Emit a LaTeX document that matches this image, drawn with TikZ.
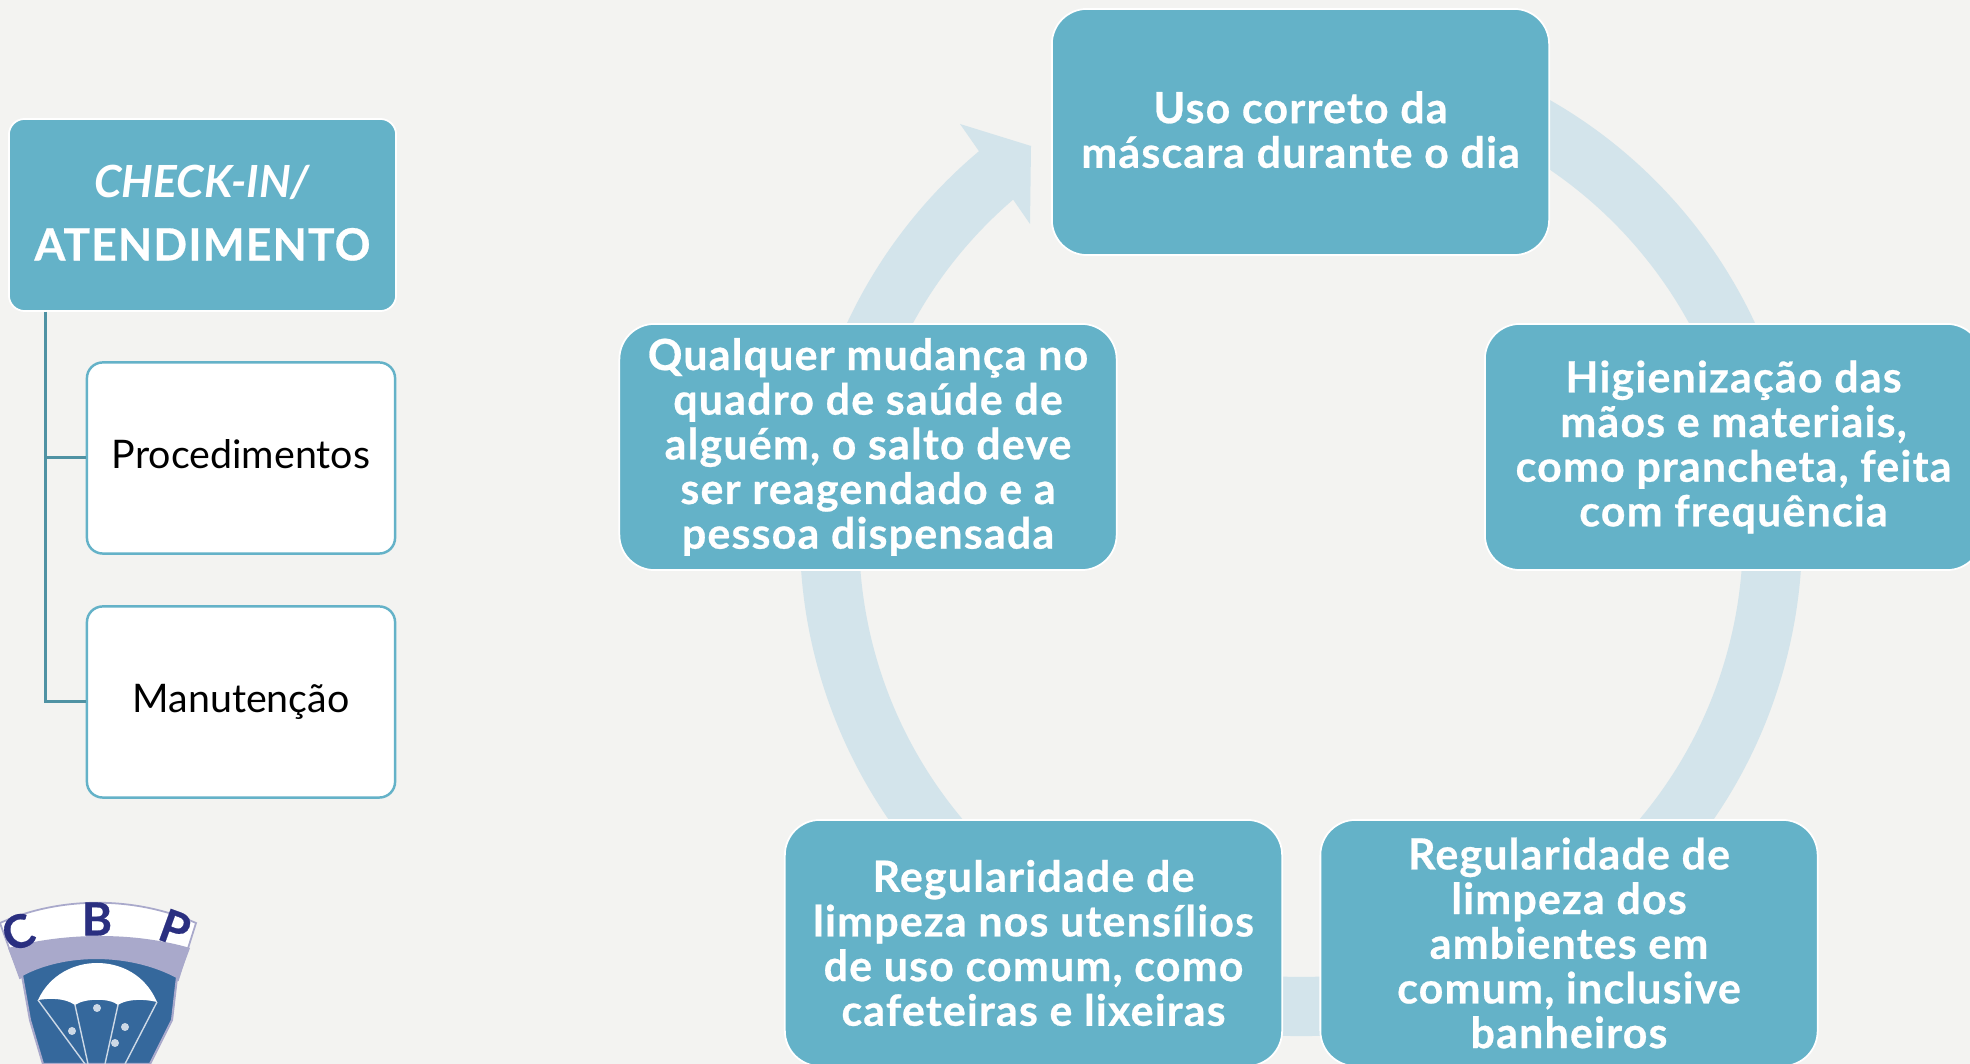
\documentclass[tikz,border=0pt]{standalone}
\usepackage{fontspec}
\setmainfont{Lato}[BoldFeatures={LetterSpace=2.8,FakeBold=0.6}]
\usetikzlibrary{calc}
\definecolor{boxteal}{HTML}{64B2C8}
\definecolor{ringblue}{HTML}{D3E4EB}
\definecolor{linkteal}{HTML}{4F92A3}
\definecolor{pagegrey}{HTML}{F3F3F1}
\definecolor{crestblue}{HTML}{35689C}
\definecolor{crestnavy}{HTML}{2A2F80}
\definecolor{crestlilac}{HTML}{A9A9CB}

\begin{document}
\begin{tikzpicture}[x=0.01cm,y=0.01cm,
    ringbox/.style={draw=white,line width=0.5pt,fill=boxteal,rounded corners=10pt,text=white,
        minimum width=4.97cm,minimum height=2.46cm,align=center,font=\fontsize{12.2}{12.7}\selectfont\bfseries},
    headbox/.style={draw=white,line width=0.5pt,fill=boxteal,rounded corners=4.5pt,text=white,
        minimum width=3.87cm,minimum height=1.92cm,align=center,font=\fontsize{12.6}{18}\selectfont\bfseries},
    subbox/.style={draw=boxteal,line width=0.7pt,fill=white,rounded corners=4.5pt,text=black,
        minimum width=3.08cm,minimum height=1.91cm,align=center,font=\fontsize{11.2}{13}\selectfont},
    crestletter/.style={text=crestnavy,font=\fontsize{13}{13}\selectfont\bfseries,inner sep=0pt}]
            \useasboundingbox (0,0) rectangle (1970,1064);
            \fill[pagegrey] (0,0) rectangle (1970,1064);
            \coordinate (ringc) at (1301,529);
            \fill[ringblue] ($(ringc)+(75:501)$) arc (75:-230:501)
                -- (960,940) -- (1031,918) -- (1030,840) -- (1012,866)
                -- ($(ringc)+(-229.4:442)$) arc (-229.4:75:442) -- cycle;
            \node[ringbox,text depth=1.4pt] (mask) at (1300.5,932) {Uso correto da\\máscara durante o dia};
            \node[ringbox] (hands) at (1733.5,617) {Higienização das\\mãos e materiais,\\como prancheta, feita\\com frequência};
            \node[ringbox] (rooms) at (1569,121) {Regularidade de\\limpeza dos\\ambientes em\\comum, inclusive\\banheiros};
            \node[ringbox] (tools) at (1033.5,121) {Regularidade de\\limpeza nos utensílios\\de uso comum, como\\cafeteiras e lixeiras};
            \node[ringbox] (health) at (868,617) {Qualquer mudança no\\quadro de saúde de\\alguém, o salto deve\\ser reagendado e a\\pessoa dispensada};
            \node[headbox,text depth=1.4pt] (checkin) at (202.5,849) {\textit{CHECK-IN/}\\ATENDIMENTO};
            \node[subbox,text depth=2pt] (proc) at (241,606) {Procedimentos};
            \node[subbox] (manut) at (241,362) {Manutenção};
            \coordinate (trunk) at ($(checkin.south west)+(37,0)$);
            \draw[linkteal,line width=0.85pt] (trunk) |- (proc.west);
            \draw[linkteal,line width=0.85pt] (trunk) |- (manut.west);
            \fill[white,draw=crestlilac,line width=0.5pt] (0,141) .. controls (60,168) and (135,168) .. (196,141)
                -- (178,84) .. controls (130,108) and (65,108) .. (20,86) -- cycle;
            \fill[crestlilac] (8,116) .. controls (65,132) and (135,132) .. (190,116)
                -- (178,84) .. controls (130,108) and (65,108) .. (20,86) -- cycle;
            \filldraw[fill=crestblue,draw=crestlilac,line width=0.6pt] (22,89) .. controls (65,112) and (130,112) .. (177,87)
                -- (172,44) -- (150,0) -- (43,0) -- (30,44) -- cycle;
            \fill[white] (38,64) .. controls (50,90) and (75,101) .. (97,101)
                .. controls (120,101) and (145,90) .. (157,62)
                .. controls (140,66) and (125,64) .. (118,59)
                .. controls (110,66) and (85,66) .. (75,59)
                .. controls (65,66) and (50,66) .. (38,64) -- cycle;
            \draw[white!75!crestblue,line width=0.4pt] (38,64) -- (85,0) (75,59) -- (88,0) (118,59) -- (105,0) (157,62) -- (125,0);
            \fill[white!75!crestblue] (97,56) circle (4) (72,33) circle (4) (125,37) circle (4) (115,21) circle (4);
            \node[crestletter,rotate=22] (crestc) at (18,132) {C};
            \node[crestletter] (crestb) at (97,145) {B};
            \node[crestletter,rotate=-20] (crestp) at (175,136) {P};
        \end{tikzpicture}
\end{document}
